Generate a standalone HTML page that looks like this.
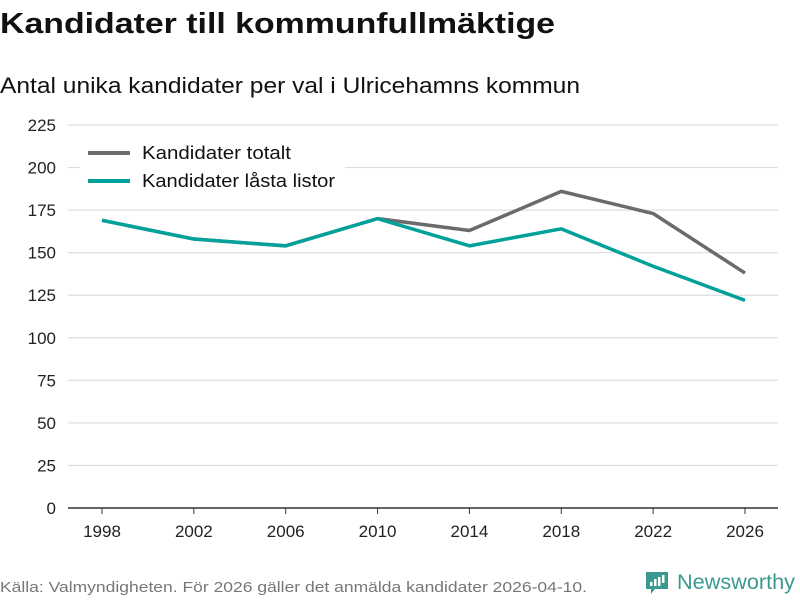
<!DOCTYPE html>
<html><head><meta charset="utf-8"><style>
body{margin:0;background:#fff;font-family:"Liberation Sans","DejaVu Sans",sans-serif;}
#wrap{position:relative;width:800px;height:600px;overflow:hidden}
</style></head><body><div id="wrap">
<svg id="svg" width="800" height="600" xmlns="http://www.w3.org/2000/svg">
<text x="0" y="33" font-size="29" font-weight="bold" fill="#111" textLength="555" lengthAdjust="spacingAndGlyphs">Kandidater till kommunfullmäktige</text>
<text x="0" y="93" font-size="22" fill="#111" textLength="580" lengthAdjust="spacingAndGlyphs">Antal unika kandidater per val i Ulricehamns kommun</text>
<text x="0" y="592" font-size="15" fill="#777" textLength="587" lengthAdjust="spacingAndGlyphs">Källa: Valmyndigheten. För 2026 gäller det anmälda kandidater 2026-04-10.</text>
<g>
<path d="M646 572 h22 v17 h-13 l-4 5 v-5 h-5z" fill="#3a9a8f"/>
<rect x="650" y="582" width="2.5" height="4" fill="#fff"/><rect x="654" y="579" width="2.5" height="7" fill="#fff"/><rect x="658" y="577" width="2.5" height="9" fill="#fff"/><rect x="662" y="575" width="2.5" height="8" fill="#fff"/>
<text x="677" y="589" font-size="21" fill="#3a9a8f" textLength="118" lengthAdjust="spacingAndGlyphs">Newsworthy</text></g>
<g id="grid"></g><g id="lines"></g>
<g>
<rect x="80" y="140" width="265" height="56" fill="#fff"/>
<line x1="88" y1="153" x2="130" y2="153" stroke="#6b6b6b" stroke-width="4"/>
<text x="142" y="159" font-size="18" fill="#111" textLength="149" lengthAdjust="spacingAndGlyphs">Kandidater totalt</text>
<line x1="88" y1="181" x2="130" y2="181" stroke="#00a19a" stroke-width="4"/>
<text x="142" y="187" font-size="18" fill="#111" textLength="193" lengthAdjust="spacingAndGlyphs">Kandidater låsta listor</text>
</g>
</svg></div>
<script>
const years=[1998,2002,2006,2010,2014,2018,2022,2026];
const totalt=[169,158,154,170,163,186,173,138];
const lasta=[169,158,154,170,154,164,142,122];
const yTicks=[0,25,50,75,100,125,150,175,200,225];
const NS="http://www.w3.org/2000/svg";
const xS=v=>102+(v-1998)*(745-102)/28;
const yS=v=>508-v*(508-125)/225;
const grid=document.getElementById('grid'),lines=document.getElementById('lines');
function mk(t,a,p){const e=document.createElementNS(NS,t);for(const k in a)e.setAttribute(k,a[k]);p.appendChild(e);return e;}
yTicks.forEach(v=>{
 const l=mk('line',{x1:68,x2:778,y1:yS(v),y2:yS(v),stroke:v===0?'#333':'#ddd','stroke-width':v===0?1.5:1.2},grid);
 
 
 const t=mk('text',{x:56,y:yS(v)+6,'font-size':17,fill:'#222','text-anchor':'end'},grid);
 t.textContent=v;
 
 
});
years.forEach(y=>{
 const tk=mk('line',{x1:xS(y),x2:xS(y),y1:508,y2:514,stroke:'#333'},grid);
 
 
 const t=mk('text',{x:xS(y),y:537,'font-size':17,fill:'#222','text-anchor':'middle'},grid);
 t.textContent=y;
 
 
});
function line(d,c,n){
 const p=mk('polyline',{points:d.map((v,i)=>xS(years[i])+','+yS(v)).join(' '),fill:'none',stroke:c,'stroke-width':3.5,'stroke-linejoin':'round'},lines);
 
 
}
line(totalt,'#6b6b6b','line-kandidater-totalt');
line(lasta,'#00a19a','line-kandidater-lasta-listor');
</script></body></html>
